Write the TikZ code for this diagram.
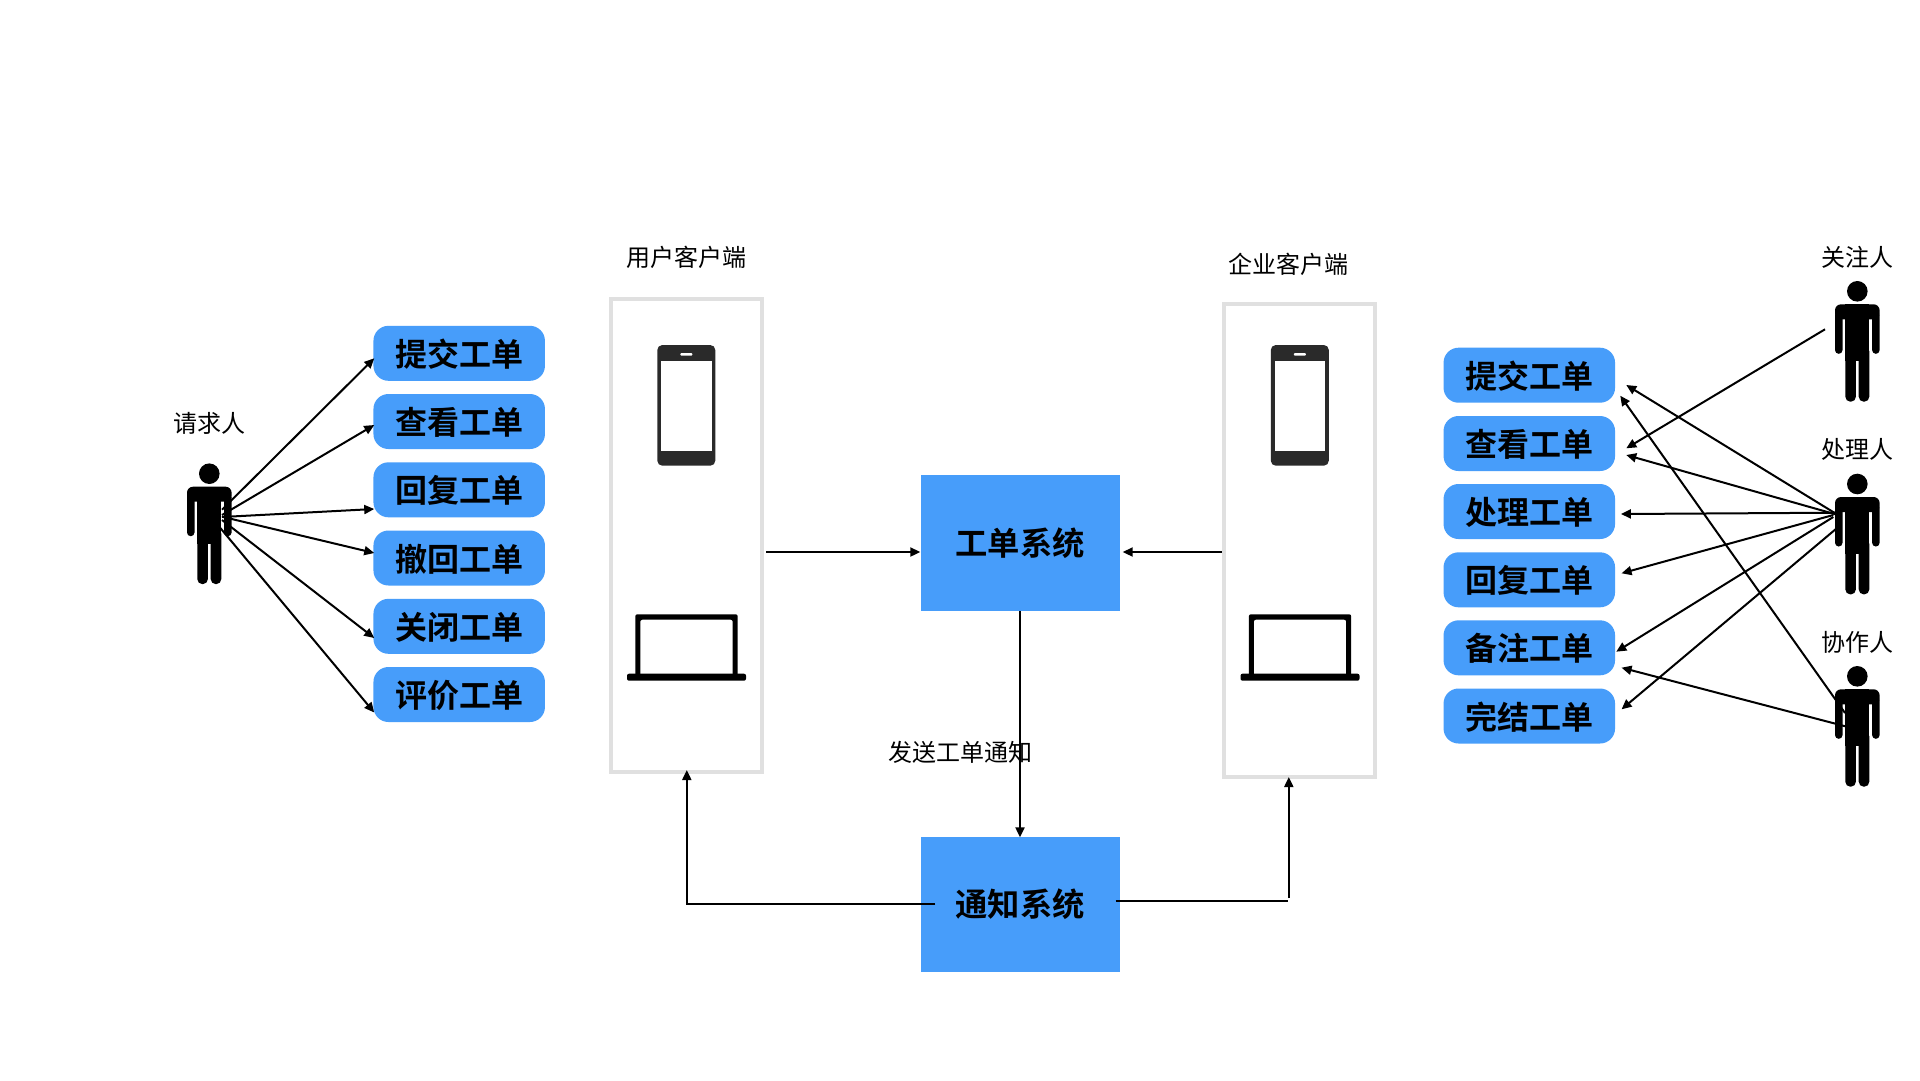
\documentclass[tikz,border=0pt]{standalone}
\usepackage{fontspec}
\usetikzlibrary{arrows.meta}
\setmainfont{Noto Sans CJK SC}[BoldFont={Noto Sans CJK SC Bold}]
\definecolor{blueb}{HTML}{479DFA}
\definecolor{frameg}{HTML}{E0E0E0}
\definecolor{phoneg}{HTML}{2A2A2A}
\tikzset{
  every picture/.style={x=1pt,y=-1pt},
  action/.style={fill=blueb,rounded corners=15pt,minimum width=171.5pt,minimum height=55pt,inner sep=0pt,font=\fontsize{32}{36}\selectfont\bfseries,text height=27pt,text depth=1pt},
  sysbox/.style={fill=blueb,minimum width=199pt,minimum height=135.5pt,inner sep=0pt,font=\fontsize{32.3}{36}\selectfont\bfseries},
  client/.style={draw=frameg,line width=4pt,minimum width=151pt,minimum height=473pt,inner sep=0pt},
  lbl/.style={inner sep=0pt,font=\fontsize{24}{28}\selectfont},
  conn/.style={line width=2pt,-{Triangle[length=10pt,width=9pt]}},
  plain/.style={line width=2pt},
  person/.pic={
    \fill (0,0) circle (10.3);
    \fill[rounded corners=6pt] (-22.3,28) -- (-22.3,13) -- (22.3,13) -- (22.3,28) -- cycle;
    \fill (-12,13) rectangle (12,70);
    \fill[rounded corners=3.7pt] (-22.3,20) rectangle (-14.8,62.5);
    \fill[rounded corners=3.7pt] (14.8,20) rectangle (22.3,62.5);
    \fill[rounded corners=5pt] (-12,55) rectangle (-1.4,110.4);
    \fill[rounded corners=5pt] (1.4,55) rectangle (12,110.4);
  },
  phonepic/.pic={
    \fill[phoneg,rounded corners=5pt] (-29,0) rectangle (29,120.7);
    \fill[white] (-25.3,16.3) rectangle (25.3,106);
    \fill[white,rounded corners=1pt] (-6,8) rectangle (6,10.7);
  },
  laptoppic/.pic={
    \fill[black,rounded corners=2pt,even odd rule] (-51,0) rectangle (51.4,62) (-46,5.4) rectangle (46.4,62);
    \fill[black,rounded corners=2pt] (-59.3,59.4) rectangle (59.7,66.4);
  }
}
\begin{document}
\begin{tikzpicture}
\useasboundingbox (0,0) rectangle (1920,1080);
\fill[white] (0,0) rectangle (1920,1080);

% client frames
\node[client] (uc) at (686.5,535.5) {};
\node[client] (ec) at (1299.5,540) {};
\pic at (686.3,345) {phonepic};
\pic at (686.3,614.3) {laptoppic};
\pic at (1299.8,345) {phonepic};
\pic at (1299.8,614.3) {laptoppic};

% systems
\node[sysbox] (ts) at (1020,543) {工单系统};
\node[sysbox] (ns) at (1020,904.3) {通知系统};

% left actions
\node[action] (lt1) at (459.2,353.3) {提交工单};
\node[action] (lt2) at (459.2,421.5) {查看工单};
\node[action] (lt3) at (459.2,489.8) {回复工单};
\node[action] (lt4) at (459.2,558) {撤回工单};
\node[action] (lt5) at (459.2,626.3) {关闭工单};
\node[action] (lt6) at (459.2,694.5) {评价工单};

% right actions
\node[action] (rt1) at (1529.3,375.2) {提交工单};
\node[action] (rt2) at (1529.3,443.5) {查看工单};
\node[action] (rt3) at (1529.3,511.5) {处理工单};
\node[action] (rt4) at (1529.3,579.8) {回复工单};
\node[action] (rt5) at (1529.3,647.8) {备注工单};
\node[action] (rt6) at (1529.3,716) {完结工单};

% labels
\node[lbl] (lbreq) at (209,423.3) {请求人};
\node[lbl] (lbuc) at (686.5,257.6) {用户客户端};
\node[lbl] (lbec) at (1288.5,264.5) {企业客户端};
\node[lbl] (lbfol) at (1857.3,257.3) {关注人};
\node[lbl] (lbhan) at (1857.3,449.5) {处理人};
\node[lbl] (lbcol) at (1857.3,642.3) {协作人};
\node[lbl] (lbsend) at (960,752) {发送工单通知};

% people
\coordinate (pL) at (209.3,473.7);
\coordinate (pF) at (1857.3,291.3);
\coordinate (pH) at (1857.3,484);
\coordinate (pC) at (1857.3,676.3);
\pic at (pL) {person};
\pic at (pF) {person};
\pic at (pH) {person};
\pic at (pC) {person};

% requester connectors
\draw[conn] ([shift={(12.7,36)}]pL) -- ([shift={(1,5)}]lt1.west);
\draw[conn] ([shift={(12.7,41.3)}]pL) -- ([shift={(1,3.5)}]lt2.west);
\draw[conn] ([shift={(12.7,43.3)}]pL) -- ([shift={(1,19.2)}]lt3.west);
\draw[conn] ([shift={(12.7,43)}]pL) -- ([shift={(1,-5)}]lt4.west);
\draw[conn] ([shift={(12.7,46.3)}]pL) -- ([shift={(1,11.7)}]lt5.west);
\draw[conn] ([shift={(7.7,50.3)}]pL) -- ([shift={(1,18)}]lt6.west);

% right-hand connectors
\draw[conn] ([shift={(-32.3,38)}]pF) -- ([shift={(11,4.8)}]rt2.east);
\draw[conn] ([shift={(-19.3,31)}]pH) -- ([shift={(11,9.8)}]rt1.east);
\draw[conn] ([shift={(-19.3,31)}]pH) -- ([shift={(11,11.5)}]rt2.east);
\draw[conn] ([shift={(-19.3,28.7)}]pH) -- ([shift={(5.7,2.5)}]rt3.east);
\draw[conn] ([shift={(-24,31)}]pH) -- ([shift={(6.3,-6.5)}]rt4.east);
\draw[conn] ([shift={(-24,33)}]pH) -- ([shift={(1,3.9)}]rt5.east);
\draw[conn] ([shift={(-20.6,44.3)}]pH) -- ([shift={(6.3,-6.7)}]rt6.east);
\draw[conn] ([shift={(-12.3,36.7)}]pC) -- ([shift={(5,20.5)}]rt1.east);
\draw[conn] ([shift={(-12.3,49.9)}]pC) -- ([shift={(6.3,19.9)}]rt5.east);

% central connectors
\draw[conn] ([shift={(2,16.5)}]uc.east) -- ([shift={(0,9)}]ts.west);
\draw[conn] ([shift={(-0.5,12)}]ec.west) -- ([shift={(3,9)}]ts.east);
\draw[conn] (ts.south) -- ([shift={(0,1)}]ns.north);
\draw[conn,line join=miter] ([shift={(15,0)}]ns.west) -- ([shift={(0.3,0)}]ns.west -| uc.south) -- ([shift={(0.3,-4)}]uc.south);
\draw[plain] ([shift={(-4,-3)}]ns.east) -- (1288,901.3);
\draw[conn] (1288.8,898) -- ([shift={(-10.7,-1.5)}]ec.south);
\end{tikzpicture}
\end{document}
